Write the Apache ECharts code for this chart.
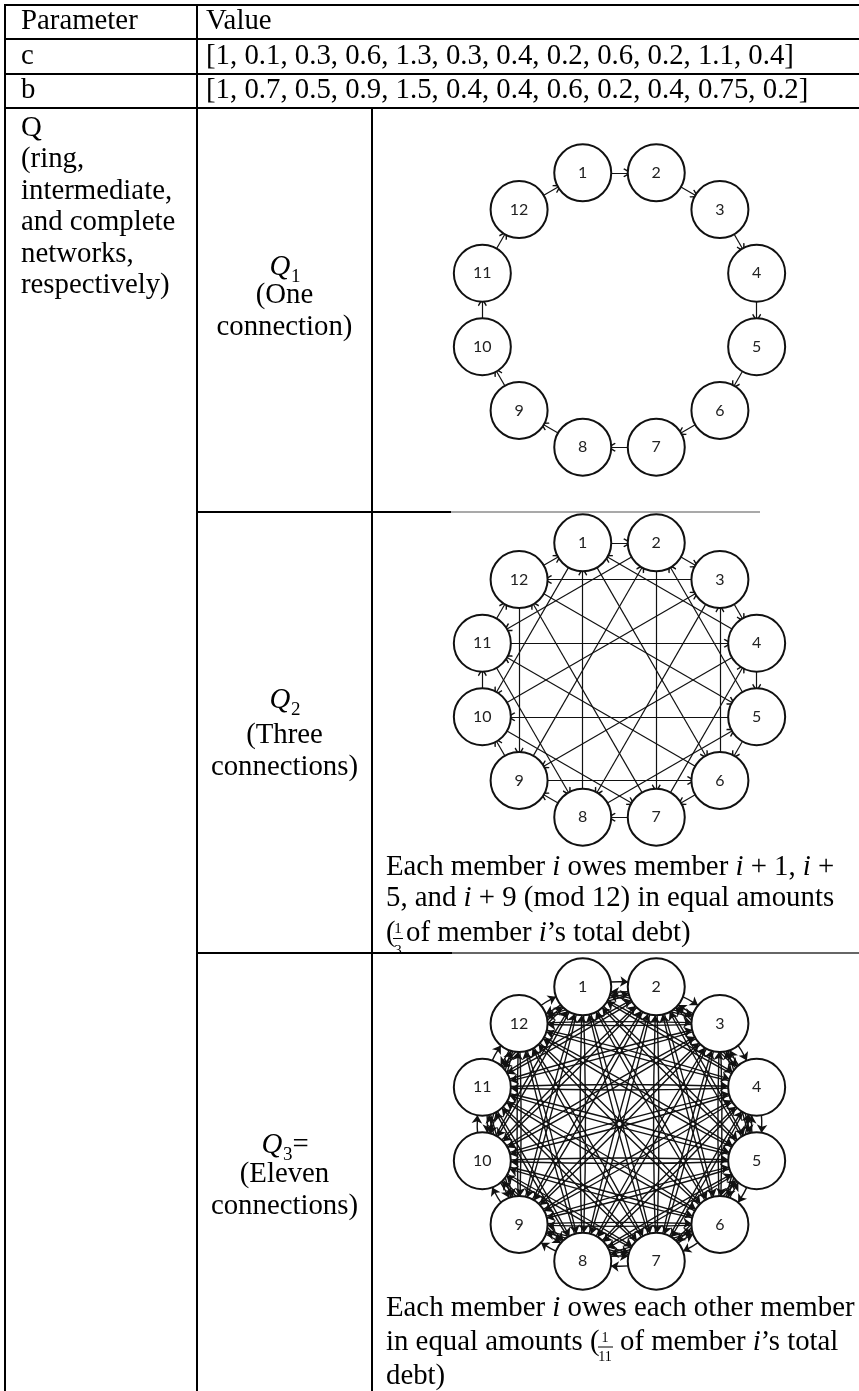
<!DOCTYPE html>
<html>
<head>
<meta charset="utf-8">
<script src="https://cdn.jsdelivr.net/npm/echarts@6.0.0/dist/echarts.min.js"></script>
<style>
  html, body { margin: 0; padding: 0; background: #fff; }
  #main { width: 859px; height: 1391px; }
</style>
</head>
<body>
<div id="main"></div>
<script>
// table values
const cValues = [1, 0.1, 0.3, 0.6, 1.3, 0.3, 0.4, 0.2, 0.6, 0.2, 1.1, 0.4];
const bValues = [1, 0.7, 0.5, 0.9, 1.5, 0.4, 0.4, 0.6, 0.2, 0.4, 0.75, 0.2];
const qNote = ['(ring,', 'intermediate,', 'and complete', 'networks,', 'respectively)'];

// network members and who owes whom (member i owes i + offset, mod 12)
const nodeNames = ['1', '2', '3', '4', '5', '6', '7', '8', '9', '10', '11', '12'];
const ringOffsets = [1];
const threeOffsets = [1, 5, 9];
const completeOffsets = [1, 2, 3, 4, 5, 6, 7, 8, 9, 10, 11];

const SERIF = '"Liberation Serif", "Times New Roman", serif';
const FS = 28.8;

function makeLinks(offsets, curvy) {
  const links = [];
  nodeNames.forEach(function (src, i) {
    offsets.forEach(function (off) {
      const link = { source: src, target: nodeNames[(i + off) % nodeNames.length] };
      if (curvy) link.lineStyle = { curveness: (off === 1 || off === 11) ? 0.14 : 0.02 };
      links.push(link);
    });
  });
  return links;
}

const nodes = nodeNames.map(function (n) { return { name: n, value: [1, n] }; });

// open "V" arrow head, tip pointing up
const openArrow = 'path://M5,0 L10,8 L8.9,9 L5,3.2 L1.1,9 L0,8 Z';

function network(idx, links, arrow, arrowSize, width) {
  return {
    type: 'graph',
    coordinateSystem: 'polar',
    polarIndex: idx,
    layout: 'none',
    silent: true,
    symbol: 'circle',
    symbolSize: 57,
    itemStyle: { color: '#fff', borderColor: '#111', borderWidth: 2 },
    label: { show: true, position: 'inside', color: '#222', fontFamily: 'Lato', fontSize: 16 },
    edgeSymbol: ['none', arrow],
    edgeSymbolSize: arrowSize,
    lineStyle: { color: '#111', width: width, opacity: 1, curveness: 0 },
    data: nodes,
    links: links
  };
}

// text helper, y given as baseline
function txt(text, x, base, opt) {
  opt = opt || {};
  const size = opt.size || FS;
  return {
    type: 'text', x: x, y: base - 0.34 * size, silent: true, z: 10,
    style: {
      text: text,
      fontFamily: opt.family || SERIF,
      fontSize: size,
      fontStyle: opt.italic ? 'italic' : 'normal',
      fill: '#000',
      align: opt.align || 'left',
      verticalAlign: 'middle',
      rich: {
        it: { fontFamily: SERIF, fontSize: FS, fontStyle: 'italic', fill: '#000' }
      }
    }
  };
}
function hline(y, x1, x2, color, w) {
  return { type: 'line', silent: true, z: 11, shape: { x1: x1, y1: y, x2: x2, y2: y },
    style: { stroke: color || '#000', lineWidth: w || 2 } };
}
function vline(x, y1, y2) {
  return { type: 'line', silent: true, z: 11, shape: { x1: x, y1: y1, x2: x, y2: y2 },
    style: { stroke: '#000', lineWidth: 2 } };
}
function qLabel(sub, cx, base, extra) {
  return [
    txt('Q', cx - 15, base, { italic: true }),
    txt(sub, cx + 6.5, base + 6, { size: 19 }),
    extra ? txt(extra, cx + 16, base) : null
  ].filter(Boolean);
}

const col2 = 284.5;
let elements = [
  hline(5, 5, 859), hline(39, 5, 859), hline(74, 5, 859), hline(108, 5, 859),
  vline(5, 4, 1391), vline(197, 4, 1391), vline(372, 108, 1391),

  txt('Parameter', 21, 31.5), txt('Value', 206, 31.5),
  txt('c', 21, 66), txt('[' + cValues.join(', ') + ']', 206, 66),
  txt('b', 21, 100.5), txt('[' + bValues.join(', ') + ']', 206, 100.5),
  txt('Q', 21, 138)
];
qNote.forEach(function (s, i) { elements.push(txt(s, 21, 169.5 + i * 31.5)); });

elements = elements.concat(
  qLabel('1', col2, 277),
  [txt('(One', col2, 305, { align: 'center' }), txt('connection)', col2, 337, { align: 'center' })],
  qLabel('2', col2, 710),
  [txt('(Three', col2, 745, { align: 'center' }), txt('connections)', col2, 777, { align: 'center' })],
  qLabel('3', col2 - 8, 1155, '='),
  [txt('(Eleven', col2, 1184, { align: 'center' }), txt('connections)', col2, 1216, { align: 'center' })]
);

// descriptions, Q2
elements.push(
  txt('Each member {it|i} owes member {it|i} + 1, {it|i} +', 386, 877),
  txt('5, and {it|i} + 9 (mod 12) in equal amounts', 386, 908),
  txt('(', 386, 943),
  txt('1', 398, 934, { size: 15, align: 'center' }),
  { type: 'line', silent: true, z: 11, shape: { x1: 393, y1: 938.5, x2: 403, y2: 938.5 }, style: { stroke: '#000', lineWidth: 1 } },
  txt('3', 398, 956, { size: 15, align: 'center' }),
  { type: 'rect', silent: true, z: 12, shape: { x: 388, y: 954, width: 20, height: 9 }, style: { fill: '#fff' } },
  txt('of member {it|i}\u2019s total debt)', 406, 943)
);
// descriptions, Q3
elements.push(
  txt('Each member {it|i} owes each other member', 386, 1318),
  txt('in equal amounts (', 386, 1352),
  txt('1', 605, 1343, { size: 14, align: 'center' }),
  { type: 'line', silent: true, z: 11, shape: { x1: 598, y1: 1347, x2: 613, y2: 1347 }, style: { stroke: '#000', lineWidth: 1 } },
  txt('11', 605, 1362, { size: 14, align: 'center' }),
  txt('of member {it|i}\u2019s total', 620, 1352),
  txt('debt)', 386, 1386)
);
// row separators in the network column
elements.push(
  hline(512, 197, 451), hline(512, 451, 760, '#555', 1.2),
  hline(953, 197, 452), hline(953, 452, 859, '#333', 1.4)
);

const centers = [[619.5, 310], [619.5, 680], [619.5, 1124]];

const option = {
  animation: false,
  backgroundColor: '#fff',
  polar: centers.map(function (c) { return { center: c, radius: 142 }; }),
  angleAxis: centers.map(function (c, i) {
    return { polarIndex: i, type: 'category', data: nodeNames, startAngle: 120, clockwise: true, boundaryGap: true, show: false };
  }),
  radiusAxis: centers.map(function (c, i) {
    return { polarIndex: i, type: 'value', min: 0, max: 1, show: false };
  }),
  graphic: { elements: elements },
  series: [
    network(0, makeLinks(ringOffsets), openArrow, 9, 1.2),
    network(1, makeLinks(threeOffsets), openArrow, 9, 1.2),
    network(2, makeLinks(completeOffsets, true), 'arrow', 8, 1.4)
  ]
};

const chart = echarts.init(document.getElementById('main'));
chart.setOption(option);
</script>
</body>
</html>
